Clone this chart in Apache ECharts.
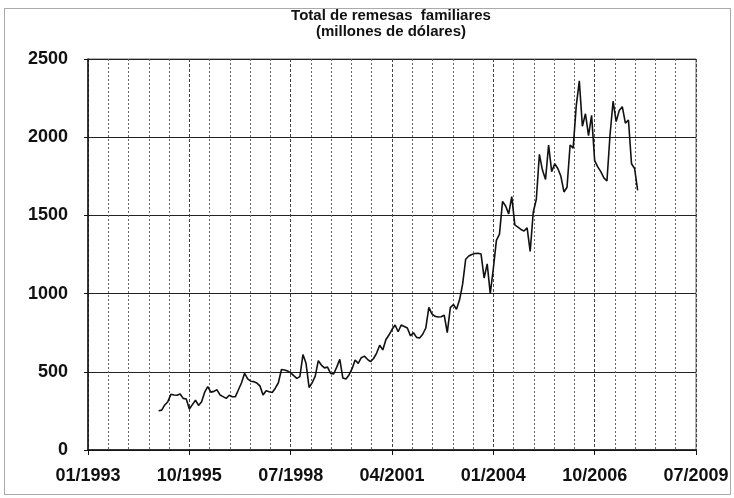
<!DOCTYPE html>
<html>
<head>
<meta charset="utf-8">
<script src="https://cdn.jsdelivr.net/npm/echarts@6/dist/echarts.min.js"></script>
<style>
  html, body { margin: 0; padding: 0; background: #fff; }
  #chart { width: 734px; height: 498px; }
</style>
</head>
<body>
<div id="chart"></div>
<script>
// meses contados desde 01/1993 (indice 0)
var axisStart = 1993;
var axisMax = 198;        // 07/2009
var axisStep = 33;        // etiquetas cada 33 meses
var yTicks = [0, 500, 1000, 1500, 2000, 2500];
var firstMonth = 23;      // primer dato: 12/1994

// remesas mensuales (millones de dolares)
var remesas = [
  251, 255, 288, 309, 356, 352, 350, 358, 330, 326,
  262, 290, 318, 285, 309, 370, 405, 370, 375, 385,
  352, 341, 330, 350, 340, 341, 385, 430, 490, 455,
  440, 437, 428, 410, 352, 379, 372, 368, 395, 430,
  515, 512, 505, 493, 475, 458, 469, 610, 554, 400,
  430, 472, 571, 543, 525, 530, 490, 486, 530, 580,
  460, 454, 480, 520, 575, 554, 590, 600, 580, 565,
  585, 620, 670, 640, 705, 735, 770, 799, 756, 799,
  790, 780, 730, 750, 720, 716, 740, 780, 912, 870,
  855, 850, 852, 862, 750, 910, 930, 900, 960, 1060,
  1220, 1240, 1250, 1256, 1258, 1253, 1100, 1190, 1000, 1160,
  1340, 1380, 1590, 1560, 1510, 1620, 1439, 1425, 1410, 1400,
  1420, 1270, 1520, 1603, 1890, 1790, 1730, 1950, 1780, 1830,
  1800, 1750, 1650, 1680, 1950, 1930, 2200, 2360, 2070, 2150,
  2010, 2140, 1850, 1810, 1780, 1740, 1720, 2014, 2230, 2100,
  2170, 2195, 2090, 2110, 1830, 1800, 1660
];

var serie = remesas.map(function (v, i) { return [firstMonth + i, v]; });

function etiquetaMes(m) {
  var mes = (m % 12) + 1;
  var anio = axisStart + Math.floor(m / 12);
  return (mes < 10 ? '0' + mes : '' + mes) + '/' + anio;
}

var chart = echarts.init(document.getElementById('chart'), null, { renderer: 'canvas' });

var option = {
  backgroundColor: '#fff',
  animation: false,
  title: {
    text: 'Total de remesas  familiares\n(millones de dólares)',
    left: 386,
    textAlign: 'center',
    top: 3,
    textStyle: {
      fontFamily: 'Liberation Sans',
      fontWeight: 'bold',
      fontSize: 15,
      lineHeight: 16,
      color: '#111'
    }
  },
  graphic: [{
    type: 'rect',
    shape: { x: 4.5, y: 8.5, width: 726, height: 486 },
    style: { fill: 'none', stroke: '#555', lineWidth: 1, lineDash: [1, 1] },
    z: -1
  }],
  grid: {
    left: 88,
    right: 38,
    top: 59,
    bottom: 48,
    show: true,
    borderColor: '#666',
    borderWidth: 1
  },
  xAxis: {
    type: 'value',
    min: 0,
    max: axisMax,
    interval: axisStep,
    axisLine: { show: true, onZero: false, lineStyle: { color: '#111', width: 1.5 } },
    axisTick: { show: true, length: 5, lineStyle: { color: '#111' } },
    axisLabel: {
      formatter: etiquetaMes,
      fontFamily: 'Liberation Sans',
      fontWeight: 'bold',
      fontSize: 18,
      color: '#111',
      margin: 17
    },
    splitLine: { show: true, lineStyle: { color: '#444', type: [3, 2], width: 1 } },
    minorTick: { show: false, splitNumber: 5 },
    minorSplitLine: { show: true, lineStyle: { color: '#666', type: [2, 2], width: 1 } }
  },
  yAxis: {
    type: 'value',
    min: yTicks[0],
    max: yTicks[yTicks.length - 1],
    interval: 500,
    axisLine: { show: true, lineStyle: { color: '#111', width: 1.5 } },
    axisTick: { show: true, length: 4, lineStyle: { color: '#111' } },
    axisLabel: {
      formatter: function (v) { return String(v); },
      fontFamily: 'Liberation Sans',
      fontWeight: 'bold',
      fontSize: 18,
      color: '#111',
      margin: 20
    },
    splitLine: { show: true, lineStyle: { color: '#222', width: 1 } }
  },
  series: [{
    type: 'line',
    data: serie,
    showSymbol: false,
    lineStyle: { color: '#111', width: 1.6 },
    z: 5
  }]
};

chart.setOption(option);
</script>
</body>
</html>
